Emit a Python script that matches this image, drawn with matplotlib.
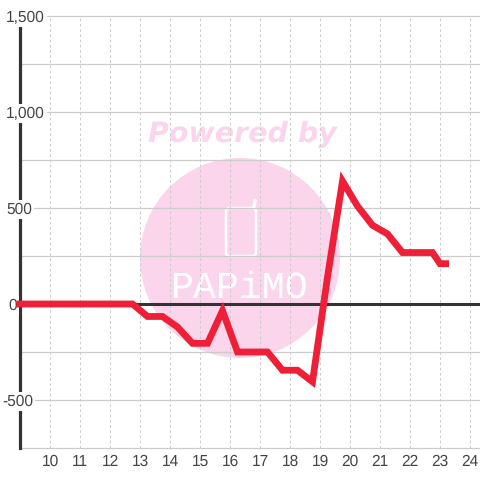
import matplotlib
matplotlib.use('Agg')
import matplotlib.pyplot as plt
from matplotlib.patches import Circle, FancyBboxPatch
from matplotlib.transforms import Affine2D

# datos
hours = [8.88, 9.25, 9.75, 10.25, 10.75, 11.25, 11.75, 12.25, 12.75, 13.25, 13.75, 14.25, 14.75, 15.25,
         15.75, 16.25, 16.75, 17.25, 17.75, 18.25, 18.75, 19.25, 19.75, 20.25, 20.75, 21.25, 21.75,
         22.25, 22.75, 23.0, 23.3]
values = [0, 0, 0, 0, 0, 0, 0, 0, 0, -65, -65, -120, -205, -205,
          -35, -250, -250, -250, -345, -345, -405, 140, 640, 510, 410, 365, 268,
          268, 268, 210, 210]
x_ticks = list(range(10, 25))
y_major = [-500, 0, 500, 1000, 1500]
y_labels = ['-500', '0', '500', '1,000', '1,500']
y_grid = [-750, -500, -250, 0, 250, 500, 750, 1000, 1250, 1500]

plt.rcParams['font.family'] = ['Liberation Sans', 'DejaVu Sans']
plt.rcParams['text.hinting'] = 'none'
fig = plt.figure(figsize=(4.8, 4.8), dpi=100)
ax = fig.add_axes([20 / 480, 32 / 480, 460 / 480, 432 / 480])

ax.set_xlim(9, 9 + 460 / 30)
ax.set_ylim(-750, 1500)
for s in ax.spines.values():
    s.set_visible(False)

# rejilla
ax.set_axisbelow(True)
ax.set_yticks(y_grid)
ax.set_xticks(x_ticks)
ax.set_yticklabels([])
ax.tick_params(length=0)
ax.set_xticklabels([str(t) for t in x_ticks], fontsize=11.2, color='#444444')
ax.tick_params(axis='x', pad=4.5)
ax.grid(axis='y', color='#cccccc', lw=0.9, clip_on=False)
ax.grid(axis='x', color='#cccccc', lw=0.75, ls=(0, (2.5, 2.5)))

# marca de agua, en pixeles de la imagen
px = Affine2D().scale(1 / 480, -1 / 480).translate(0, 1) + fig.transFigure
pink = '#fbd5ec'
ax.add_patch(Circle((240, 258), 100, transform=px, fc=pink, ec='none', zorder=0.1))
ax.text(242, 134, 'Powered by', transform=px, color=pink, fontsize=20.5, weight='bold', style='italic',
        family='DejaVu Sans', ha='center', va='center', zorder=0.2)
ax.add_patch(FancyBboxPatch((226, 208), 30, 48, boxstyle='round,pad=0,rounding_size=3', transform=px,
                            fc='none', ec='white', lw=1.8, zorder=0.2))
ax.plot([254, 255], [206, 201], transform=px, color='white', lw=2.4, zorder=0.2)
ax.text(240, 288, 'PAPiMO', transform=px, color='white', fontsize=27.5,
        family='Liberation Mono', ha='center', va='center', zorder=0.2)

# ejes
ax.axvline(9, color='#333333', lw=2.3, zorder=2, clip_on=False)
ax.axhline(0, color='#333333', lw=2.2, zorder=2)

# etiquetas con fondo blanco
left_px = [2, 8, 6, 6, 6]
for v, lab, lp in zip(y_major, y_labels, left_px):
    ax.annotate(lab, (9 + (lp - 20) / 30, v), xytext=(0, -1), textcoords='offset points',
                fontsize=11.2, color='#444444', ha='left', va='center', annotation_clip=False, zorder=3,
                bbox=dict(fc='white', ec='none', pad=1.5))

ax.plot(hours, values, color='#ee1f36', lw=4.9, solid_joinstyle='miter', solid_capstyle='butt',
        zorder=4, clip_on=False)

fig.savefig('out.png', dpi=100, facecolor='white')
